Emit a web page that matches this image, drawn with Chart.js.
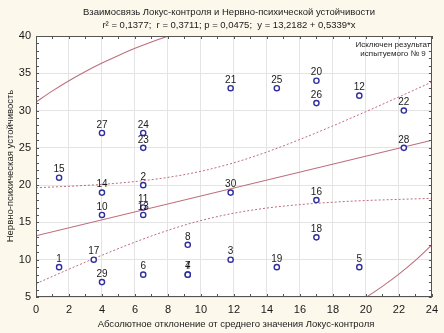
<!DOCTYPE html>
<html>
<head>
<meta charset="utf-8">
<script src="https://cdn.jsdelivr.net/npm/chart.js@4/dist/chart.umd.min.js"></script>
<style>
  html, body { margin: 0; padding: 0; background: #FCF8EC; }
  #wrap { width: 444px; height: 333px; position: relative; }
</style>
</head>
<body>
<div id="wrap"><canvas id="c" width="444" height="333"></canvas></div>
<script>
// Subjects (No. 9 excluded)
const subjectIds = [1, 2, 3, 4, 5, 6, 7, 8, 10, 11, 12, 13, 14, 15, 16, 17, 18, 19, 20, 21, 22, 23, 24, 25, 26, 27, 28, 29, 30];
// Absolute deviation from the mean locus-of-control score
const deviation = [1.4, 6.5, 11.8, 9.2, 19.6, 6.5, 9.2, 9.2, 4.0, 6.5, 19.6, 6.5, 4.0, 1.4, 17.0, 3.5, 17.0, 14.6, 17.0, 11.8, 22.3, 6.5, 6.5, 14.6, 17.0, 4.0, 22.3, 4.0, 11.8];
// Neuro-psychic stability score
const stability = [9, 20, 10, 8, 9, 8, 8, 12, 16, 17, 32, 16, 19, 21, 18, 10, 13, 9, 34, 33, 30, 25, 27, 33, 31, 27, 25, 7, 19];

// Regression y = a + b*x
const intercept = 13.2182;
const slope = 0.5339;
const lineX = [0, 24];

// 95% confidence band of the regression line
const bandX = [0, 2, 4, 6, 8, 10, 12, 14, 16, 18, 20, 22, 24];
const bandUpper = [19.65, 19.85, 20.10, 20.48, 21.04, 21.86, 23.00, 24.45, 26.13, 27.95, 29.86, 31.83, 33.83];
const bandLower = [6.79, 8.73, 10.60, 12.36, 13.94, 15.26, 16.24, 16.93, 17.39, 17.71, 17.94, 18.09, 18.23];

// 95% prediction ellipse (visible arcs)
const ellipseTopX = [0, 1, 2, 3, 4, 5, 6, 7, 8, 9];
const ellipseTopY = [31.14, 32.64, 34.00, 35.24, 36.37, 37.40, 38.35, 39.20, 39.97, 40.66];
const ellipseBottomX = [19.5, 20, 21, 22, 23, 24];
const ellipseBottomY = [4.25, 4.94, 6.43, 8.07, 9.91, 12.00];

// Axis ticks
const xTicks = [0, 2, 4, 6, 8, 10, 12, 14, 16, 18, 20, 22, 24];
const yTicks = [5, 10, 15, 20, 25, 30, 35, 40];

const titleText = 'Взаимосвязь Локус-контроля и Нервно-психической устойчивости';
const statsText = 'r² = 0,1377;  r = 0,3711; p = 0,0475;  y = 13,2182 + 0,5339*x';
const xTitle = 'Абсолютное отклонение от среднего значения Локус-контроля';
const yTitle = 'Нервно-психическая устойчивость';
const noteLines = ['Исключен результат', 'испытуемого № 9'];

const lineColor = '#BE6E7C';
const pointColor = '#2E2E9E';
const FONT = '"Liberation Sans", Arial, sans-serif';

const pairs = (xs, ys) => xs.map((x, i) => ({ x: x, y: ys[i] }));

const decor = {
  id: 'decor',
  beforeDraw(chart) {
    const { ctx, chartArea: a } = chart;
    ctx.save();
    ctx.fillStyle = '#FCF8EC';
    ctx.fillRect(0, 0, chart.width, chart.height);
    ctx.fillStyle = '#FFFFFF';
    ctx.fillRect(a.left, a.top, a.right - a.left, a.bottom - a.top);
    ctx.restore();
  },
  afterDatasetsDraw(chart) {
    const { ctx, chartArea: a, scales } = chart;
    const xs = scales.x, ys = scales.y;
    ctx.save();
    // frame
    ctx.strokeStyle = '#555555';
    ctx.lineWidth = 1;
    ctx.strokeRect(Math.round(a.left) + 0.5, Math.round(a.top) + 0.5, Math.round(a.right - a.left) - 1, Math.round(a.bottom - a.top) - 1);
    // minor/major tick marks along the frame
    ctx.beginPath();
    for (let v = 0; v <= 24; v += 1) {
      const px = Math.round(xs.getPixelForValue(v)) + 0.5;
      ctx.moveTo(px, a.bottom); ctx.lineTo(px, a.bottom - 3);
      ctx.moveTo(px, a.top); ctx.lineTo(px, a.top + 3);
    }
    for (let v = 5; v <= 40; v += 1) {
      const py = Math.round(ys.getPixelForValue(v)) + 0.5;
      ctx.moveTo(a.left, py); ctx.lineTo(a.left + 3, py);
      ctx.moveTo(a.right, py); ctx.lineTo(a.right - 3, py);
    }
    ctx.stroke();

    // point numbers
    const meta = chart.getDatasetMeta(0);
    ctx.fillStyle = '#1A1A1A';
    ctx.font = '10px ' + FONT;
    ctx.textAlign = 'center';
    ctx.textBaseline = 'middle';
    meta.data.forEach((el, i) => {
      ctx.fillText(String(subjectIds[i]), el.x, el.y - 8);
    });

    // note
    ctx.font = '8px ' + FONT;
    ctx.fillStyle = '#222222';
    ctx.fillText(noteLines[0], 393, 45);
    ctx.fillText(noteLines[1], 393, 54);

    // titles
    ctx.font = '9.5px ' + FONT;
    ctx.fillStyle = '#1A1A1A';
    ctx.fillText(titleText, 229, 12);
    ctx.fillText(statsText, 229, 25);
    ctx.fillText(xTitle, 236, 324);
    ctx.translate(10, 166);
    ctx.rotate(-Math.PI / 2);
    ctx.fillText(yTitle, 0, 0);
    ctx.restore();
  }
};

new Chart(document.getElementById('c'), {
  type: 'scatter',
  data: {
    datasets: [
      {
        data: pairs(deviation, stability),
        showLine: false,
        pointStyle: 'circle',
        pointRadius: 2.6,
        pointBorderWidth: 1.4,
        pointBorderColor: pointColor,
        pointBackgroundColor: '#FFFFFF',
        order: 0
      },
      {
        data: pairs(lineX, lineX.map(x => intercept + slope * x)),
        showLine: true, pointRadius: 0, borderColor: lineColor, borderWidth: 1.1, order: 1
      },
      {
        data: pairs(bandX, bandUpper),
        showLine: true, pointRadius: 0, borderColor: lineColor, borderWidth: 1, borderDash: [2, 2],
        cubicInterpolationMode: 'monotone', order: 1
      },
      {
        data: pairs(bandX, bandLower),
        showLine: true, pointRadius: 0, borderColor: lineColor, borderWidth: 1, borderDash: [2, 2],
        cubicInterpolationMode: 'monotone', order: 1
      },
      {
        data: pairs(ellipseTopX, ellipseTopY),
        showLine: true, pointRadius: 0, borderColor: lineColor, borderWidth: 1.1,
        cubicInterpolationMode: 'monotone', order: 1
      },
      {
        data: pairs(ellipseBottomX, ellipseBottomY),
        showLine: true, pointRadius: 0, borderColor: lineColor, borderWidth: 1.1,
        cubicInterpolationMode: 'monotone', order: 1
      }
    ]
  },
  options: {
    responsive: false,
    animation: false,
    events: [],
    layout: { padding: { left: 0, right: 10, top: 36, bottom: 0 } },
    plugins: { legend: { display: false }, tooltip: { enabled: false }, title: { display: false } },
    scales: {
      x: {
        type: 'linear', min: 0, max: 24,
        afterBuildTicks(s) { s.ticks = xTicks.map(v => ({ value: v })); },
        afterFit(s) { s.height = 36; },
        grid: { color: '#E4E4E4', drawTicks: false },
        border: { display: false },
        ticks: { color: '#1A1A1A', font: { family: FONT, size: 11 }, padding: 6, maxRotation: 0 }
      },
      y: {
        type: 'linear', min: 5, max: 40,
        afterBuildTicks(s) { s.ticks = yTicks.map(v => ({ value: v })); },
        afterFit(s) { s.width = 36; },
        grid: { color: '#E4E4E4', drawTicks: false },
        border: { display: false },
        ticks: { color: '#1A1A1A', font: { family: FONT, size: 11 }, padding: 5 }
      }
    }
  },
  plugins: [decor]
});
</script>
</body>
</html>
